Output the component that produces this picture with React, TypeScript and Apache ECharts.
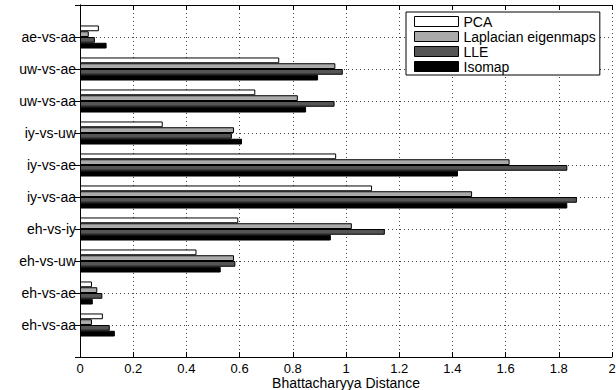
import React, { useEffect, useRef } from "react";
import * as echarts from "echarts";

// Categories listed top to bottom as in the figure
const categories = [
  "ae-vs-aa",
  "uw-vs-ae",
  "uw-vs-aa",
  "iy-vs-uw",
  "iy-vs-ae",
  "iy-vs-aa",
  "eh-vs-iy",
  "eh-vs-uw",
  "eh-vs-ae",
  "eh-vs-aa",
];

const seriesNames = ["PCA", "Laplacian eigenmaps", "LLE", "Isomap"];

const pcaValues = [0.071, 0.749, 0.659, 0.311, 0.963, 1.098, 0.595, 0.438, 0.045, 0.086];
const laplacianValues = [0.033, 0.96, 0.819, 0.579, 1.615, 1.474, 1.022, 0.579, 0.065, 0.045];
const lleValues = [0.056, 0.988, 0.957, 0.571, 1.832, 1.868, 1.146, 0.584, 0.084, 0.112];
const isomapValues = [0.1, 0.895, 0.85, 0.609, 1.421, 1.832, 0.943, 0.529, 0.048, 0.131];

const xTicks = { min: 0, max: 2, interval: 0.2 };
const xAxisName = "Bhattacharyya Distance";

const FONT = "'Liberation Sans', Arial, Helvetica, sans-serif";
const colors = ["#ffffff", "#aaaaaa", "#555555", "#000000"];

export default function App() {
  const ref = useRef<HTMLDivElement>(null);

  useEffect(() => {
    if (!ref.current) return;
    const chart = echarts.init(ref.current, undefined, { renderer: "svg" });
    const paddedCats = ["", ...categories, ""];
    const allValues = [pcaValues, laplacianValues, lleValues, isomapValues];
    const gridLine = { show: true, lineStyle: { color: "#444", type: [1, 3] as any, width: 1 } };

    const catAxisBase = {
      type: "category" as const,
      data: paddedCats,
      inverse: true,
      boundaryGap: false,
      axisLine: { show: true, lineStyle: { color: "#000", width: 1 } },
      axisTick: { show: true, inside: true, length: 5, lineStyle: { color: "#000" } },
    };
    const valAxisBase = {
      type: "value" as const,
      min: xTicks.min,
      max: xTicks.max,
      interval: xTicks.interval,
      axisLine: { show: true, lineStyle: { color: "#000", width: 1 } },
      axisTick: { show: true, inside: true, length: 5, lineStyle: { color: "#000" } },
    };

    chart.setOption({
      animation: false,
      backgroundColor: "#fff",
      textStyle: { fontFamily: FONT },
      grid: { left: 80, right: 4, top: 5, bottom: 33, containLabel: false, outerBoundsMode: "none" },
      legend: {
        orient: "vertical",
        left: 406,
        top: 12,
        padding: [2, 4, 1, 8],
        itemWidth: 44,
        itemHeight: 10,
        itemGap: 0,
        backgroundColor: "#fff",
        borderColor: "#000",
        borderWidth: 1,
        icon: "rect",
        itemStyle: { borderColor: "#000", borderWidth: 1 },
        textStyle: { fontFamily: FONT, fontSize: 14, color: "#000", lineHeight: 15, padding: [0, 0, 0, 0] },
        data: seriesNames,
      },
      xAxis: [
        {
          ...valAxisBase,
          position: "bottom",
          name: xAxisName,
          nameLocation: "middle",
          nameGap: 19,
          nameMoveOverlap: false,
          nameTextStyle: { fontFamily: FONT, fontSize: 14, lineHeight: 14, color: "#000" },
          axisLabel: { fontFamily: FONT, fontSize: 13, lineHeight: 13, color: "#000", margin: 5 },
          splitLine: gridLine,
        },
        {
          ...valAxisBase,
          position: "top",
          axisLabel: { show: false },
          splitLine: { show: false },
        },
      ],
      yAxis: [
        {
          ...catAxisBase,
          position: "left",
          axisLabel: { fontFamily: FONT, fontSize: 14, color: "#000", margin: 4, interval: 0 },
          splitLine: { ...gridLine, interval: 0 },
        },
        {
          ...catAxisBase,
          position: "right",
          axisLabel: { show: false },
          splitLine: { show: false },
        },
      ],
      series: seriesNames.map((name, i) => ({
        name,
        type: "bar",
        xAxisIndex: 0,
        yAxisIndex: 0,
        data: ["-", ...allValues[i], "-"],
        barGap: "0%",
        barCategoryGap: "28%",
        itemStyle: { color: colors[i], borderColor: "#000", borderWidth: 1 },
      })),
    });
    return () => chart.dispose();
  }, []);

  return (
    <div
      ref={ref}
      style={{ position: "fixed", left: 0, top: 0, width: 616, height: 390 }}
    />
  );
}
